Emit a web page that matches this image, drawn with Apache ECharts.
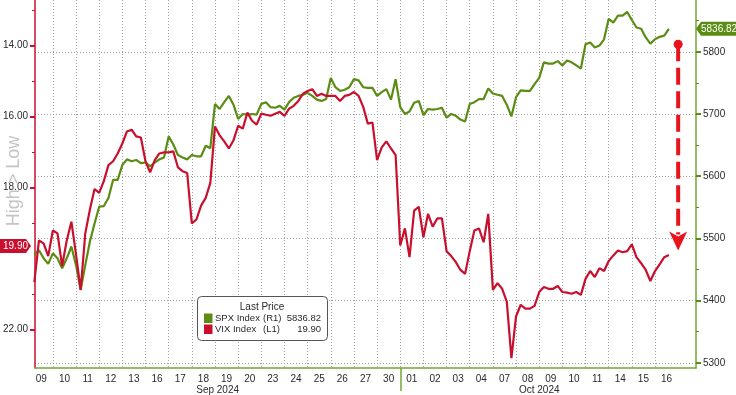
<!DOCTYPE html>
<html><head><meta charset="utf-8">
<script src="https://cdn.jsdelivr.net/npm/echarts@6/dist/echarts.min.js"></script>
<style>html,body{margin:0;padding:0;background:#fff}#c{width:736px;height:395px}</style>
</head><body><div id="c"></div>
<script>
// ---------- data ----------
const days = ['09','10','11','12','13','16','17','18','19','20','23','24','25','26','27','30','01','02','03','04','07','08','09','10','11','14','15','16'];
const months = ['Sep 2024', 'Oct 2024'];
const monthStart = [0, 16];           // index in days where each month begins
const T0 = 0.2, STEP = 0.2;           // sample times, in trading-day units (Sep 09 = day 0)
const spx = [
 5474,5481,5468,5459,5476,5468,5452,5468,5487,5457,
 5417,5457,5495,5524,5551,5552,5565,5594,5594,5618,
 5627,5624,5626,5621,5622,5616,5622,5627,5630,5664,
 5651,5634,5630,5627,5634,5632,5632,5649,5645,5716,
 5708,5719,5729,5715,5692,5700,5699,5700,5699,5716,
 5719,5711,5710,5713,5707,5719,5726,5729,5731,5734,
 5729,5723,5721,5724,5758,5743,5737,5739,5743,5756,
 5754,5743,5742,5742,5729,5735,5740,5723,5756,5711,
 5700,5704,5718,5721,5698,5708,5707,5708,5710,5694,
 5700,5697,5691,5688,5716,5719,5724,5724,5741,5733,
 5731,5729,5715,5696,5727,5738,5737,5737,5748,5758,
 5783,5781,5781,5785,5778,5786,5783,5778,5773,5812,
 5815,5807,5810,5820,5853,5847,5858,5858,5864,5851,
 5839,5837,5823,5813,5820,5824,5826,5836.82
];
const vix = [
 20.66,19.49,19.57,19.93,19.21,19.29,20.21,19.49,18.96,19.88,
 20.88,19.29,18.62,18.04,18.15,17.82,17.37,17.26,17.04,16.76,
 16.42,16.37,16.56,16.59,17.26,17.57,17.23,17.04,17.01,17.01,
 16.98,17.43,17.54,17.59,19.01,18.90,18.51,18.29,17.87,16.28,
 16.53,16.70,16.90,16.67,16.26,16.34,15.89,16.12,16.23,15.92,
 15.95,15.98,15.92,15.87,15.98,15.78,15.70,15.56,15.36,15.28,
 15.23,15.42,15.36,15.42,15.42,15.42,15.56,15.42,15.39,15.31,
 15.42,15.73,16.20,16.17,17.23,16.87,16.70,16.90,17.09,19.63,
 19.15,19.96,18.65,18.54,19.40,18.74,19.10,18.87,18.87,19.79,
 19.93,20.10,20.32,20.43,19.79,19.21,19.15,19.54,18.74,20.88,
 20.69,20.85,21.21,22.80,21.63,21.30,21.41,21.41,21.33,20.94,
 20.80,20.85,20.85,20.77,20.94,20.96,20.99,20.94,21.02,20.57,
 20.35,20.52,20.27,20.35,20.07,19.91,19.77,19.82,19.79,19.60,
 19.96,20.13,20.32,20.63,20.35,20.16,19.96,19.90
];
const spxLast = 5836.82, vixLast = 19.90;
const spxTicks = [5300,5400,5500,5600,5700,5800];
const spxMinor = [5350,5450,5550,5650,5750,5850];
const vixTicks = [14,16,18,22];
const vixMinor = [13,15,17,19,21];
const arrowFromSpx = 5812, arrowToVix = 19.77, arrowDay = 28.0;

// ---------- chart ----------
const FONT = '"Liberation Sans", Arial, sans-serif';
const GREEN = '#5b8c14', GREEN_AX = '#74a636', RED = '#c8102e', GRIDC = '#a0a0a0', TXT = '#2a2a2a', ARROW = '#e8141c';
const XMIN = 0.23, XMAX = 28.77;
const VMIN = 12.72, VMAX = 23.08;
const SMIN = 5291.7, SMAX = 5883.2;

const spxData = spx.map((v, i) => [T0 + i * STEP, v]);
const vixData = vix.map((v, i) => [T0 + i * STEP, v]);
const dayCenters = days.map((d, i) => i + 0.5);
const dayBounds = days.slice(1).map((d, i) => i + 1);
const monthBound = monthStart[1];
const monthCenters = [(XMIN + monthStart[1]) / 2, (monthStart[1] + days.length) / 2];

const chart = echarts.init(document.getElementById('c'));
const lbl = {fontSize: 10, color: TXT, fontFamily: FONT};
chart.setOption({
  animation: false,
  backgroundColor: '#fff',
  textStyle: {fontFamily: FONT},
  grid: {left: 31, right: 40, top: 0, bottom: 23},
  xAxis: [
    {type: 'value', min: XMIN, max: XMAX,
     axisLine: {show: true, onZero: false, lineStyle: {color: GREEN_AX, width: 1.5}},
     axisTick: {show: true, customValues: [monthBound], length: 23, lineStyle: {color: GREEN_AX, width: 1.5}},
     axisLabel: Object.assign({customValues: dayCenters, formatter: v => days[Math.floor(v)], margin: 6}, lbl),
     splitLine: {show: false}},
    {type: 'value', min: XMIN, max: XMAX, position: 'bottom', offset: 11,
     axisLine: {show: false}, axisTick: {show: false},
     axisLabel: Object.assign({customValues: monthCenters, formatter: v => months[v < monthBound ? 0 : 1], margin: 6}, lbl),
     splitLine: {show: false}},
    {type: 'value', min: XMIN, max: XMAX,
     axisLine: {show: false}, axisTick: {show: false, customValues: dayBounds}, axisLabel: {show: false},
     splitLine: {show: true, lineStyle: {color: GRIDC, type: [1, 2], width: 1}}}
  ],
  yAxis: [
    {type: 'value', position: 'left', inverse: true, min: VMIN, max: VMAX,
     axisLine: {show: true, onZero: false, lineStyle: {color: RED, width: 1.5}},
     axisTick: {show: true, customValues: vixTicks, length: 5, lineStyle: {color: RED, width: 2}},
     axisLabel: Object.assign({customValues: vixTicks, formatter: v => v.toFixed(2), margin: 7}, lbl),
     splitLine: {show: false}},
    {type: 'value', position: 'right', min: SMIN, max: SMAX,
     axisLine: {show: true, onZero: false, lineStyle: {color: GREEN_AX, width: 1.5}},
     axisTick: {show: true, customValues: spxTicks, length: 5, lineStyle: {color: GREEN, width: 2}},
     axisLabel: Object.assign({customValues: spxTicks, formatter: v => String(v), margin: 7}, lbl),
     splitLine: {show: true, lineStyle: {color: GRIDC, type: [1, 2], width: 1}}},
    {type: 'value', position: 'left', inverse: true, min: VMIN, max: VMAX,
     axisLine: {show: false}, axisTick: {show: true, customValues: vixMinor, length: 3, lineStyle: {color: RED, width: 1}},
     axisLabel: {show: false}, splitLine: {show: false}},
    {type: 'value', position: 'right', min: SMIN, max: SMAX,
     axisLine: {show: false}, axisTick: {show: true, customValues: spxMinor, length: 3, lineStyle: {color: GREEN, width: 1}},
     axisLabel: {show: false}, splitLine: {show: false}}
  ],
  series: [
    {name: 'SPX Index', type: 'line', xAxisIndex: 0, yAxisIndex: 1, data: spxData, symbol: 'none',
     lineStyle: {color: GREEN, width: 2.2}, z: 3},
    {name: 'VIX Index', type: 'line', xAxisIndex: 0, yAxisIndex: 0, data: vixData, symbol: 'none',
     lineStyle: {color: RED, width: 2.2}, z: 4}
  ]
});

// ---------- annotations ----------
const px = v => chart.convertToPixel({xAxisIndex: 0}, v);
const pyS = v => chart.convertToPixel({yAxisIndex: 1}, v);
const pyV = v => chart.convertToPixel({yAxisIndex: 0}, v);
const ySpx = pyS(spxLast), yVix = pyV(vixLast) - 9;
const xR = 736 - 40, xL = 31;
const ax = px(arrowDay), yA = pyS(arrowFromSpx), yB = pyV(arrowToVix);
const f10 = '10px ' + FONT, f9 = '9.5px ' + FONT;
chart.setOption({graphic: [
  {type: 'text', x: 14, y: 181, rotation: Math.PI / 2, style: {text: 'High > Low', font: '18px ' + FONT, fill: '#c4c4c4', align: 'center', verticalAlign: 'middle'}, z: 50},
  {type: 'polygon', shape: {points: [[xR, ySpx], [xR + 5, ySpx - 7], [736, ySpx - 7], [736, ySpx + 7], [xR + 5, ySpx + 7]]}, style: {fill: GREEN}, z: 60},
  {type: 'text', x: xR + 5, y: ySpx, style: {text: spxLast.toFixed(2), font: f10, fill: '#fff', verticalAlign: 'middle'}, z: 61},
  {type: 'polygon', shape: {points: [[0, yVix - 7], [26, yVix - 7], [xL, yVix], [26, yVix + 7], [0, yVix + 7]]}, style: {fill: RED}, z: 60},
  {type: 'text', x: 3, y: yVix, style: {text: vixLast.toFixed(2), font: f10, fill: '#fff', verticalAlign: 'middle'}, z: 61},
  {type: 'rect', shape: {x: 197.5, y: 296.5, width: 130, height: 44, r: 4}, style: {fill: '#fff', stroke: '#555', lineWidth: 1}, z: 70},
  {type: 'text', x: 262, y: 307.5, style: {text: 'Last Price', font: f10, fill: TXT, align: 'center', verticalAlign: 'middle'}, z: 71},
  {type: 'rect', shape: {x: 204, y: 313.5, width: 8.5, height: 9.5}, style: {fill: GREEN}, z: 71},
  {type: 'text', x: 215, y: 318.5, style: {text: 'SPX Index', font: f9, fill: TXT, verticalAlign: 'middle'}, z: 71},
  {type: 'text', x: 263, y: 318.5, style: {text: '(R1)', font: f9, fill: TXT, verticalAlign: 'middle'}, z: 71},
  {type: 'text', x: 321, y: 318.5, style: {text: spxLast.toFixed(2), font: f9, fill: TXT, align: 'right', verticalAlign: 'middle'}, z: 71},
  {type: 'rect', shape: {x: 204, y: 324.5, width: 8.5, height: 9.5}, style: {fill: RED}, z: 71},
  {type: 'text', x: 215, y: 329.5, style: {text: 'VIX Index', font: f9, fill: TXT, verticalAlign: 'middle'}, z: 71},
  {type: 'text', x: 263, y: 329.5, style: {text: '(L1)', font: f9, fill: TXT, verticalAlign: 'middle'}, z: 71},
  {type: 'text', x: 321, y: 329.5, style: {text: vixLast.toFixed(2), font: f9, fill: TXT, align: 'right', verticalAlign: 'middle'}, z: 71},
  {type: 'line', shape: {x1: ax, y1: yA, x2: ax, y2: yB - 16}, style: {stroke: ARROW, lineWidth: 4, lineDash: [17, 6.5]}, z: 80},
  {type: 'circle', shape: {cx: ax, cy: yA, r: 4.5}, style: {fill: ARROW}, z: 81},
  {type: 'polygon', shape: {points: [[ax - 9, yB - 19], [ax, yB - 14], [ax + 9, yB - 19], [ax, yB]]}, style: {fill: ARROW}, z: 81}
]});
</script></body></html>
